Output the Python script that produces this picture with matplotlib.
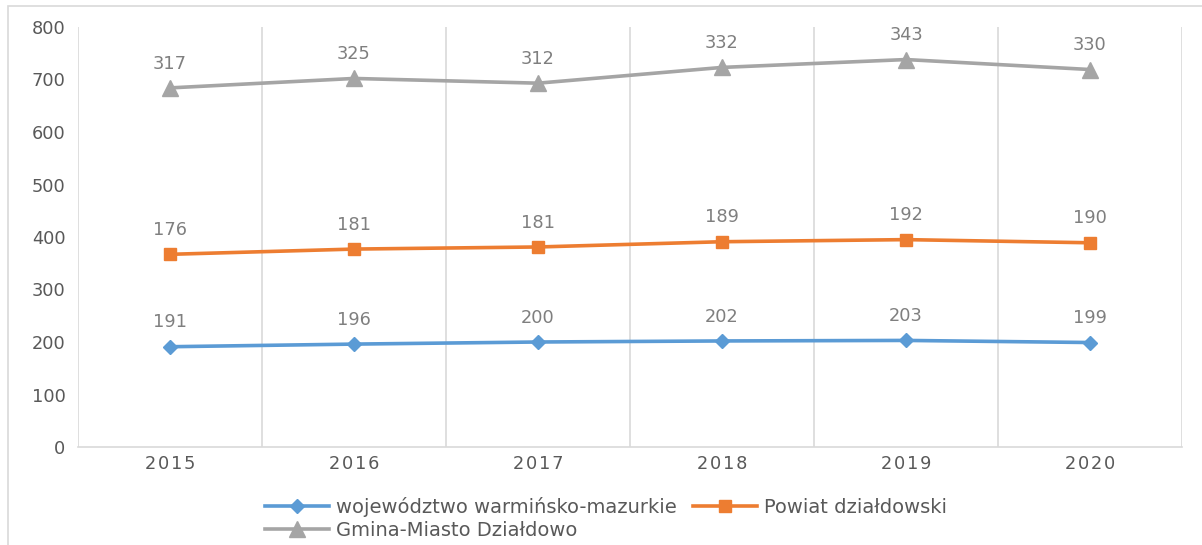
import matplotlib.pyplot as plt
from matplotlib.patches import Rectangle
import numpy as np

years = ["2015", "2016", "2017", "2018", "2019", "2020"]
wojewodztwo = [191, 196, 200, 202, 203, 199]
powiat = [176, 181, 181, 189, 192, 190]
gmina = [317, 325, 312, 332, 343, 330]

names = ["województwo warmińsko-mazurkie", "Powiat działdowski", "Gmina-Miasto Działdowo"]
colors = ["#5B9BD5", "#ED7D31", "#A5A5A5"]
markers = ["D", "s", "^"]
msizes = [7, 9, 12]

plt.rcParams['font.family'] = ['DejaVu Sans']

fig = plt.figure(figsize=(12.02, 5.45), dpi=100)
ax = fig.add_axes([78 / 1202, 1 - 447 / 545, (1182 - 78) / 1202, (447 - 27) / 545])

# stacked line chart (Excel style)
series = [wojewodztwo, powiat, gmina]
x = np.arange(len(years))
base = np.zeros(len(years))
handles = []
for vals, name, c, m, ms in zip(series, names, colors, markers, msizes):
    top = base + np.array(vals)
    h, = ax.plot(x, top, color=c, lw=2.6, marker=m, ms=ms, label=name, zorder=3)
    handles.append(h)
    for xi, yi, v in zip(x, top, vals):
        ax.annotate(str(v), (xi, yi), xytext=(0, 11), textcoords="offset points",
                    ha="center", va="bottom", fontsize=12.8, color="#7F7F7F")
    base = top

ax.set_xlim(-0.5, len(years) - 0.5)
ax.set_ylim(0, 800)
ax.set_yticks(range(0, 801, 100))
ax.set_xticks(x)
ax.set_xticklabels(["\u200a".join(y) for y in years])

# vertical gridlines on category boundaries
for b in np.arange(-0.5, len(years), 1):
    ax.axvline(b, color="#D9D9D9", lw=1.2, zorder=1)

for s in ["top", "right", "left"]:
    ax.spines[s].set_visible(False)
ax.spines["bottom"].set_color("#D9D9D9")
ax.spines["bottom"].set_linewidth(1.2)
ax.tick_params(axis="both", length=0, labelsize=12.8, colors="#595959")
ax.tick_params(axis="x", pad=6)
ax.tick_params(axis="y", pad=9)

# row-major legend order like Excel
order = [0, 2, 1]
fig.legend([handles[i] for i in order], [names[i] for i in order],
           loc="upper left", bbox_to_anchor=(265 / 1202, 1 - 497 / 545), ncol=2,
           frameon=False, borderpad=0, borderaxespad=0, handlelength=3.3,
           handletextpad=0.35, columnspacing=0.85, labelspacing=0.18,
           labelcolor="#595959", fontsize=14)

fig.patches.append(Rectangle((8 / 1202, -0.01), 1.02, 1 - 6 / 545 + 0.01,
                             transform=fig.transFigure, fill=False,
                             edgecolor="#D9D9D9", lw=1.2))

fig.savefig("out.png", dpi=100)
